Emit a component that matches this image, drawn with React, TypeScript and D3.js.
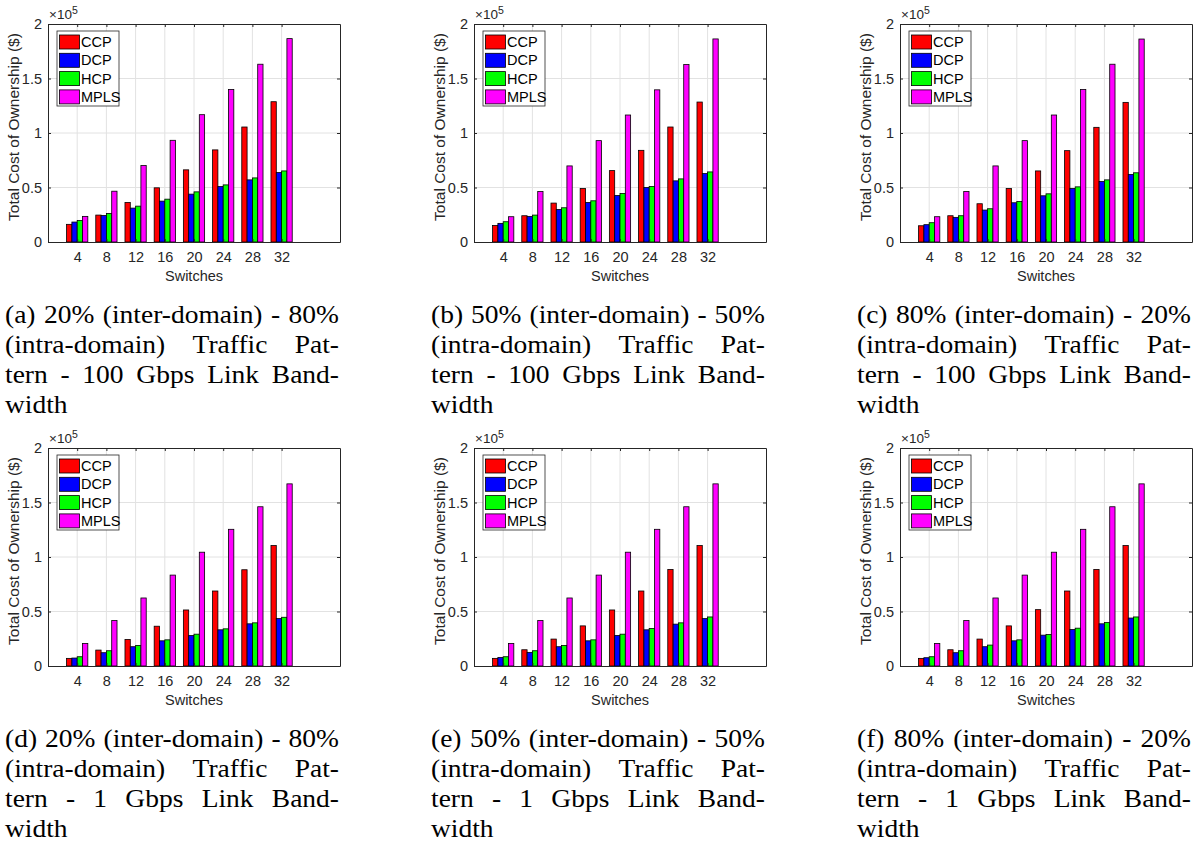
import React, { useEffect, useRef } from 'react';
import * as d3 from 'd3';

const categories = [4, 8, 12, 16, 20, 24, 28, 32];
const seriesNames = ['CCP', 'DCP', 'HCP', 'MPLS'];
const seriesColors = ['#ff0000', '#0000ff', '#00ff00', '#ff00ff'];
const yTicks = [0, 50000, 100000, 150000, 200000];
const yTickLabels = ['0', '0.5', '1', '1.5', '2'];

// (a) 20% inter - 80% intra, 100 Gbps
const ccpA = [16200, 24700, 36300, 49700, 66200, 84500, 105500, 128700];
const dcpA = [18300, 24400, 31100, 37500, 43900, 50900, 57000, 63700];
const hcpA = [19800, 26200, 32900, 39300, 46000, 52400, 58800, 65200];
const mplsA = [23500, 46600, 70100, 93300, 116800, 139900, 163100, 186600];

// (b) 50% - 50%, 100 Gbps
const ccpB = [15200, 24100, 35700, 49100, 65500, 84100, 105500, 128400];
const dcpB = [17100, 23500, 29900, 36300, 42700, 50000, 56100, 62800];
const hcpB = [18600, 24700, 31400, 37800, 44500, 50900, 57900, 64300];
const mplsB = [23200, 46300, 69800, 93000, 116500, 139600, 162800, 186300];

// (c) 80% - 20%, 100 Gbps
const ccpC = [14900, 24100, 35100, 49100, 65200, 83800, 105200, 128100];
const dcpC = [15900, 22600, 29300, 36000, 42400, 49100, 55500, 62000];
const hcpC = [17700, 24100, 30500, 37200, 44200, 50600, 57000, 63500];
const mplsC = [23200, 46300, 69800, 93000, 116500, 139900, 163100, 186200];

// (d) 20% - 80%, 1 Gbps
const ccpD = [7000, 14600, 24400, 36500, 51400, 68800, 88300, 110500];
const dcpD = [7300, 12200, 17700, 23100, 28000, 33200, 38700, 43500];
const hcpD = [8500, 14000, 18900, 24000, 29200, 34100, 39600, 44700];
const mplsD = [20700, 41700, 62400, 83400, 104400, 125400, 146100, 167100];

// (e) 50% - 50%, 1 Gbps
const ccpE = [7000, 14900, 24700, 36800, 51400, 68800, 88600, 110500];
const dcpE = [7900, 12500, 17700, 23100, 28000, 33200, 38400, 43500];
const hcpE = [8500, 14000, 18900, 24000, 29200, 34400, 39600, 45000];
const mplsE = [20700, 41700, 62400, 83400, 104400, 125400, 146100, 167100];

// (f) 80% - 20%, 1 Gbps
const ccpF = [7000, 14900, 24700, 36800, 51700, 68800, 88600, 110500];
const dcpF = [7600, 12200, 17700, 23100, 28300, 33500, 38700, 44000];
const hcpF = [8500, 14000, 19200, 24000, 28900, 34700, 39900, 45000];
const mplsF = [20700, 41700, 62400, 83400, 104400, 125400, 146100, 167100];

const captionA = ['(a) 20% (inter-domain) - 80%', '(intra-domain) Traffic Pat-', 'tern - 100 Gbps Link Band-', 'width'];
const captionB = ['(b) 50% (inter-domain) - 50%', '(intra-domain) Traffic Pat-', 'tern - 100 Gbps Link Band-', 'width'];
const captionC = ['(c) 80% (inter-domain) - 20%', '(intra-domain) Traffic Pat-', 'tern - 100 Gbps Link Band-', 'width'];
const captionD = ['(d) 20% (inter-domain) - 80%', '(intra-domain) Traffic Pat-', 'tern - 1 Gbps Link Band-', 'width'];
const captionE = ['(e) 50% (inter-domain) - 50%', '(intra-domain) Traffic Pat-', 'tern - 1 Gbps Link Band-', 'width'];
const captionF = ['(f) 80% (inter-domain) - 20%', '(intra-domain) Traffic Pat-', 'tern - 1 Gbps Link Band-', 'width'];

const panels = [
  { col: 0, row: 0, series: [ccpA, dcpA, hcpA, mplsA], caption: captionA },
  { col: 1, row: 0, series: [ccpB, dcpB, hcpB, mplsB], caption: captionB },
  { col: 2, row: 0, series: [ccpC, dcpC, hcpC, mplsC], caption: captionC },
  { col: 0, row: 1, series: [ccpD, dcpD, hcpD, mplsD], caption: captionD },
  { col: 1, row: 1, series: [ccpE, dcpE, hcpE, mplsE], caption: captionE },
  { col: 2, row: 1, series: [ccpF, dcpF, hcpF, mplsF], caption: captionF },
];

const W = 1198;
const H = 845;
const colStep = 426;
const rowStep = 424;
const axColor = '#262626';
const sans = "'Liberation Sans', Arial, sans-serif";
const serif = "'Liberation Serif', 'Times New Roman', serif";

function drawPanel(root: any, p: any) {
  const ox = p.col * colStep;
  const oy = p.row * rowStep;
  const left = ox + 48, top = oy + 24, w = 292, h = 218;
  const g = root.append('g');

  const x = d3.scaleLinear().domain([0, 40]).range([left, left + w]);
  const y = d3.scaleLinear().domain([0, 200000]).range([top + h, top]);
  const inner = d3.scaleBand().domain(seriesNames).range([-1.455, 1.455]).padding(0);

  g.append('rect').attr('x', left).attr('y', top).attr('width', w).attr('height', h).attr('fill', '#fff');

  // grid
  g.selectAll('.vgrid').data(categories).enter().append('line')
    .attr('x1', (d) => x(d)).attr('x2', (d) => x(d))
    .attr('y1', top).attr('y2', top + h)
    .attr('stroke', '#e2e2e2').attr('stroke-width', 1);
  g.selectAll('.hgrid').data(yTicks.slice(1, -1)).enter().append('line')
    .attr('x1', left).attr('x2', left + w)
    .attr('y1', (d) => y(d)).attr('y2', (d) => y(d))
    .attr('stroke', '#e2e2e2').attr('stroke-width', 1);

  // bars
  p.series.forEach((vals: number[], si: number) => {
    g.selectAll('.bar' + si).data(vals).enter().append('rect')
      .attr('x', (d, i) => x(categories[i] + (inner(seriesNames[si]) as number)))
      .attr('width', x(inner.bandwidth()) - x(0))
      .attr('y', (d) => y(d))
      .attr('height', (d) => y(0) - y(d))
      .attr('fill', seriesColors[si])
      .attr('stroke', '#000').attr('stroke-width', 0.8);
  });

  // axes (box on, inward ticks)
  const style = (a: any) => {
    a.selectAll('path').attr('stroke', axColor).attr('stroke-width', 1);
    a.selectAll('line').attr('stroke', axColor);
    a.selectAll('text').attr('fill', axColor).style('font-family', sans).style('font-size', '14.5px');
  };
  g.append('g').attr('transform', `translate(0,${top + h})`)
    .call(d3.axisBottom(x).tickValues(categories).tickSize(-3).tickSizeOuter(0).tickPadding(10)).call(style);
  g.append('g').attr('transform', `translate(0,${top})`)
    .call(d3.axisTop(x).tickValues(categories).tickSize(-3).tickSizeOuter(0).tickFormat(() => '')).call(style);
  g.append('g').attr('transform', `translate(${left},0)`)
    .call(d3.axisLeft(y).tickValues(yTicks).tickSize(-3).tickSizeOuter(0).tickPadding(6)
      .tickFormat((d, i) => yTickLabels[i])).call(style);
  g.append('g').attr('transform', `translate(${left + w},0)`)
    .call(d3.axisRight(y).tickValues(yTicks).tickSize(-3).tickSizeOuter(0).tickFormat(() => '')).call(style);

  // exponent
  const ex = g.append('text').attr('x', left + 1).attr('y', top - 5)
    .attr('fill', axColor).style('font-family', sans).style('font-size', '13.5px');
  ex.append('tspan').text('×10');
  ex.append('tspan').attr('dy', -5).style('font-size', '10.5px').text('5');

  // labels
  g.append('text').attr('x', left + w / 2).attr('y', top + h + 39)
    .attr('text-anchor', 'middle').attr('fill', axColor)
    .style('font-family', sans).style('font-size', '14.5px').text('Switches');
  g.append('text').attr('transform', `translate(${left - 29},${top + 103}) rotate(-90)`)
    .attr('text-anchor', 'middle').attr('fill', axColor)
    .style('font-family', sans).style('font-size', '15.5px').text('Total Cost of Ownership ($)');

  // legend
  const lg = g.append('g').attr('transform', `translate(${left + 9},${top + 7})`);
  lg.append('rect').attr('width', 62).attr('height', 75).attr('fill', '#fff')
    .attr('stroke', axColor).attr('stroke-width', 0.8);
  seriesNames.forEach((s, i) => {
    lg.append('rect').attr('x', 2.5).attr('y', 4 + i * 18.3).attr('width', 20).attr('height', 14)
      .attr('fill', seriesColors[i]).attr('stroke', '#000').attr('stroke-width', 0.8);
    lg.append('text').attr('x', 24).attr('y', 16 + i * 18.3).attr('fill', '#000')
      .style('font-family', sans).style('font-size', '14.5px').text(s);
  });

  // caption, justified; horizontally widened to approach Computer Modern proportions
  const sx = 1.1;
  const capWidth = 334 / sx;
  const cap = g.append('g').attr('transform', `translate(${ox + 5},0) scale(${sx},1)`);
  p.caption.forEach((line: string, li: number) => {
    const words = line.split(' ');
    const baseY = oy + 323 + li * 30;
    const nodes = words.map((wd) => cap.append('text').attr('y', baseY).attr('fill', '#000')
      .style('font-family', serif).style('font-size', '25px').text(wd));
    const widths = nodes.map((n) => (n.node() as SVGTextElement).getComputedTextLength());
    const total = d3.sum(widths);
    const last = li === p.caption.length - 1;
    const gap = last || words.length < 2 ? 6 : (capWidth - total) / (words.length - 1);
    let cx = 0;
    nodes.forEach((n, i) => {
      n.attr('x', cx);
      cx += widths[i] + gap;
    });
  });
}

export default function App() {
  const ref = useRef<SVGSVGElement>(null);
  useEffect(() => {
    const svg = d3.select(ref.current);
    svg.selectAll('*').remove();
    svg.append('rect').attr('width', W).attr('height', H).attr('fill', '#fff');
    panels.forEach((p) => drawPanel(svg, p));
  }, []);
  return (
    <svg
      ref={ref}
      width={W}
      height={H}
      style={{ position: 'absolute', left: 0, top: 0, background: '#fff' }}
    />
  );
}
